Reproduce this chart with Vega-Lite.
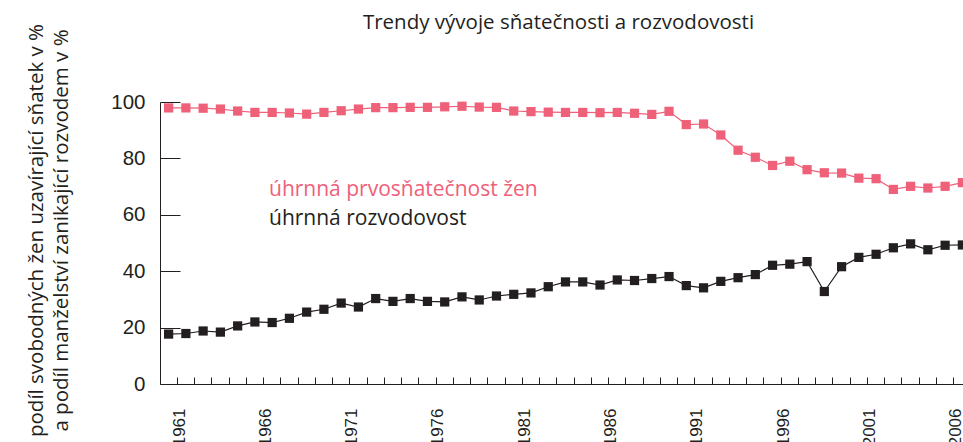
{
  "$schema": "https://vega.github.io/schema/vega-lite/v6.json",
  "autosize": {"type": "none"},
  "padding": {"left": 160, "top": 102, "right": 0, "bottom": 58},
  "width": 803,
  "height": 282,
  "background": "white",
  "title": {
    "text": "Trendy vývoje sňatečnosti a rozvodovosti",
    "font": "Open Sans",
    "fontSize": 20.5,
    "fontWeight": "normal",
    "color": "#231f20",
    "frame": "group",
    "anchor": "middle",
    "baseline": "alphabetic",
    "offset": 0,
    "dy": 26,
    "dx": -3
  },
  "config": {
    "view": {"stroke": null},
    "axis": {"grid": false}
  },
  "data": {
    "values": [
      {"year": 1961, "series": "úhrnná prvosňatečnost žen", "value": 97.9},
      {"year": 1962, "series": "úhrnná prvosňatečnost žen", "value": 97.9},
      {"year": 1963, "series": "úhrnná prvosňatečnost žen", "value": 97.8},
      {"year": 1964, "series": "úhrnná prvosňatečnost žen", "value": 97.5},
      {"year": 1965, "series": "úhrnná prvosňatečnost žen", "value": 96.8},
      {"year": 1966, "series": "úhrnná prvosňatečnost žen", "value": 96.3},
      {"year": 1967, "series": "úhrnná prvosňatečnost žen", "value": 96.3},
      {"year": 1968, "series": "úhrnná prvosňatečnost žen", "value": 96.1},
      {"year": 1969, "series": "úhrnná prvosňatečnost žen", "value": 95.7},
      {"year": 1970, "series": "úhrnná prvosňatečnost žen", "value": 96.3},
      {"year": 1971, "series": "úhrnná prvosňatečnost žen", "value": 96.9},
      {"year": 1972, "series": "úhrnná prvosňatečnost žen", "value": 97.5},
      {"year": 1973, "series": "úhrnná prvosňatečnost žen", "value": 98.0},
      {"year": 1974, "series": "úhrnná prvosňatečnost žen", "value": 98.0},
      {"year": 1975, "series": "úhrnná prvosňatečnost žen", "value": 98.1},
      {"year": 1976, "series": "úhrnná prvosňatečnost žen", "value": 98.1},
      {"year": 1977, "series": "úhrnná prvosňatečnost žen", "value": 98.3},
      {"year": 1978, "series": "úhrnná prvosňatečnost žen", "value": 98.5},
      {"year": 1979, "series": "úhrnná prvosňatečnost žen", "value": 98.2},
      {"year": 1980, "series": "úhrnná prvosňatečnost žen", "value": 98.1},
      {"year": 1981, "series": "úhrnná prvosňatečnost žen", "value": 96.8},
      {"year": 1982, "series": "úhrnná prvosňatečnost žen", "value": 96.6},
      {"year": 1983, "series": "úhrnná prvosňatečnost žen", "value": 96.4},
      {"year": 1984, "series": "úhrnná prvosňatečnost žen", "value": 96.3},
      {"year": 1985, "series": "úhrnná prvosňatečnost žen", "value": 96.3},
      {"year": 1986, "series": "úhrnná prvosňatečnost žen", "value": 96.2},
      {"year": 1987, "series": "úhrnná prvosňatečnost žen", "value": 96.3},
      {"year": 1988, "series": "úhrnná prvosňatečnost žen", "value": 96.0},
      {"year": 1989, "series": "úhrnná prvosňatečnost žen", "value": 95.6},
      {"year": 1990, "series": "úhrnná prvosňatečnost žen", "value": 96.7},
      {"year": 1991, "series": "úhrnná prvosňatečnost žen", "value": 92.0},
      {"year": 1992, "series": "úhrnná prvosňatečnost žen", "value": 92.2},
      {"year": 1993, "series": "úhrnná prvosňatečnost žen", "value": 88.3},
      {"year": 1994, "series": "úhrnná prvosňatečnost žen", "value": 82.9},
      {"year": 1995, "series": "úhrnná prvosňatečnost žen", "value": 80.4},
      {"year": 1996, "series": "úhrnná prvosňatečnost žen", "value": 77.5},
      {"year": 1997, "series": "úhrnná prvosňatečnost žen", "value": 79.0},
      {"year": 1998, "series": "úhrnná prvosňatečnost žen", "value": 76.0},
      {"year": 1999, "series": "úhrnná prvosňatečnost žen", "value": 74.9},
      {"year": 2000, "series": "úhrnná prvosňatečnost žen", "value": 74.8},
      {"year": 2001, "series": "úhrnná prvosňatečnost žen", "value": 73.0},
      {"year": 2002, "series": "úhrnná prvosňatečnost žen", "value": 72.8},
      {"year": 2003, "series": "úhrnná prvosňatečnost žen", "value": 69.0},
      {"year": 2004, "series": "úhrnná prvosňatečnost žen", "value": 70.1},
      {"year": 2005, "series": "úhrnná prvosňatečnost žen", "value": 69.5},
      {"year": 2006, "series": "úhrnná prvosňatečnost žen", "value": 70.1},
      {"year": 2007, "series": "úhrnná prvosňatečnost žen", "value": 71.4},
      {"year": 1961, "series": "úhrnná rozvodovost", "value": 17.7},
      {"year": 1962, "series": "úhrnná rozvodovost", "value": 17.9},
      {"year": 1963, "series": "úhrnná rozvodovost", "value": 18.8},
      {"year": 1964, "series": "úhrnná rozvodovost", "value": 18.4},
      {"year": 1965, "series": "úhrnná rozvodovost", "value": 20.6},
      {"year": 1966, "series": "úhrnná rozvodovost", "value": 22.0},
      {"year": 1967, "series": "úhrnná rozvodovost", "value": 21.8},
      {"year": 1968, "series": "úhrnná rozvodovost", "value": 23.3},
      {"year": 1969, "series": "úhrnná rozvodovost", "value": 25.5},
      {"year": 1970, "series": "úhrnná rozvodovost", "value": 26.5},
      {"year": 1971, "series": "úhrnná rozvodovost", "value": 28.7},
      {"year": 1972, "series": "úhrnná rozvodovost", "value": 27.3},
      {"year": 1973, "series": "úhrnná rozvodovost", "value": 30.3},
      {"year": 1974, "series": "úhrnná rozvodovost", "value": 29.3},
      {"year": 1975, "series": "úhrnná rozvodovost", "value": 30.3},
      {"year": 1976, "series": "úhrnná rozvodovost", "value": 29.3},
      {"year": 1977, "series": "úhrnná rozvodovost", "value": 29.1},
      {"year": 1978, "series": "úhrnná rozvodovost", "value": 30.9},
      {"year": 1979, "series": "úhrnná rozvodovost", "value": 29.8},
      {"year": 1980, "series": "úhrnná rozvodovost", "value": 31.2},
      {"year": 1981, "series": "úhrnná rozvodovost", "value": 31.8},
      {"year": 1982, "series": "úhrnná rozvodovost", "value": 32.3},
      {"year": 1983, "series": "úhrnná rozvodovost", "value": 34.5},
      {"year": 1984, "series": "úhrnná rozvodovost", "value": 36.2},
      {"year": 1985, "series": "úhrnná rozvodovost", "value": 36.2},
      {"year": 1986, "series": "úhrnná rozvodovost", "value": 35.1},
      {"year": 1987, "series": "úhrnná rozvodovost", "value": 36.9},
      {"year": 1988, "series": "úhrnná rozvodovost", "value": 36.7},
      {"year": 1989, "series": "úhrnná rozvodovost", "value": 37.4},
      {"year": 1990, "series": "úhrnná rozvodovost", "value": 38.1},
      {"year": 1991, "series": "úhrnná rozvodovost", "value": 34.9},
      {"year": 1992, "series": "úhrnná rozvodovost", "value": 34.1},
      {"year": 1993, "series": "úhrnná rozvodovost", "value": 36.4},
      {"year": 1994, "series": "úhrnná rozvodovost", "value": 37.7},
      {"year": 1995, "series": "úhrnná rozvodovost", "value": 38.8},
      {"year": 1996, "series": "úhrnná rozvodovost", "value": 42.1},
      {"year": 1997, "series": "úhrnná rozvodovost", "value": 42.5},
      {"year": 1998, "series": "úhrnná rozvodovost", "value": 43.4},
      {"year": 1999, "series": "úhrnná rozvodovost", "value": 32.8},
      {"year": 2000, "series": "úhrnná rozvodovost", "value": 41.6},
      {"year": 2001, "series": "úhrnná rozvodovost", "value": 44.9},
      {"year": 2002, "series": "úhrnná rozvodovost", "value": 46.0},
      {"year": 2003, "series": "úhrnná rozvodovost", "value": 48.3},
      {"year": 2004, "series": "úhrnná rozvodovost", "value": 49.7},
      {"year": 2005, "series": "úhrnná rozvodovost", "value": 47.6},
      {"year": 2006, "series": "úhrnná rozvodovost", "value": 49.2},
      {"year": 2007, "series": "úhrnná rozvodovost", "value": 49.3}
    ]
  },
  "mark": {
    "type": "line",
    "strokeWidth": 1.2,
    "point": {"shape": "square", "size": 85, "filled": true, "opacity": 1}
  },
  "encoding": {
    "x": {
      "field": "year",
      "type": "ordinal",
      "bandPosition": 0.5,
      "scale": {"type": "band", "range": [0, 811], "paddingInner": 0, "paddingOuter": 0},
      "axis": {
        "title": null,
        "bandPosition": 1,
        "domainColor": "#231f20",
        "domainWidth": 1,
        "tickColor": "#231f20",
        "tickWidth": 1,
        "tickSize": -7,
        "labelPadding": 31,
        "labelOffset": 11,
        "labelAngle": -90,
        "labelOverlap": false,
        "labelFont": "Liberation Sans",
        "labelFontSize": 17,
        "labelColor": "#231f20",
        "labelExpr": "(datum.value - 1961) % 5 == 0 ? datum.label : ''"
      }
    },
    "y": {
      "field": "value",
      "type": "quantitative",
      "scale": {"domain": [0, 100], "nice": false, "zero": true},
      "axis": {
        "title": ["podíl svobodných žen uzavírající sňatek v %", "a podíl manželství zanikající rozvodem v %"],
        "titleFont": "Open Sans",
        "titleFontSize": 20.5,
        "titleFontWeight": "normal",
        "titleColor": "#231f20",
        "titleLineHeight": 25,
        "titlePadding": 39,
        "titleY": 128,
        "values": [0, 20, 40, 60, 80, 100],
        "domainColor": "#231f20",
        "domainWidth": 1,
        "tickColor": "#231f20",
        "tickWidth": 1,
        "tickSize": -20,
        "labelPadding": 35,
        "labelFont": "Liberation Sans",
        "labelFontSize": 20.5,
        "labelColor": "#231f20"
      }
    },
    "color": {
      "field": "series",
      "type": "nominal",
      "scale": {
        "domain": ["úhrnná prvosňatečnost žen", "úhrnná rozvodovost"],
        "range": ["#ef6079", "#231f20"]
      },
      "legend": {
        "title": null,
        "orient": "none",
        "legendX": 88,
        "legendY": 77,
        "padding": 0,
        "symbolSize": 0,
        "symbolOpacity": 0,
        "symbolStrokeWidth": 0,
        "labelOffset": 0,
        "rowPadding": 7,
        "labelFont": "Open Sans",
        "labelFontSize": 21,
        "labelLimit": 0,
        "labelColor": {"expr": "datum.label == 'úhrnná rozvodovost' ? '#231f20' : '#ef6079'"}
      }
    }
  }
}
